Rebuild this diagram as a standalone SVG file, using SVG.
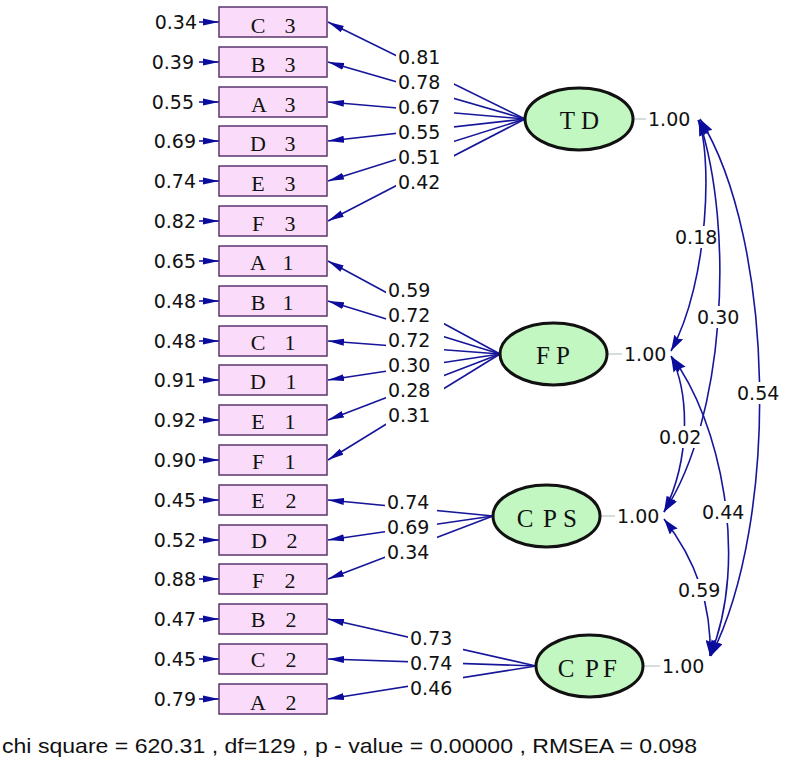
<svg xmlns="http://www.w3.org/2000/svg" width="794" height="773" viewBox="0 0 794 773">
<style>
.bx{fill:#fadcfa;stroke:#5a356e;stroke-width:1.5}
.bt{font-family:"Liberation Serif",serif;font-size:22px;fill:#111;text-anchor:middle}
.lv{fill:#c2f7c2;stroke:#111;stroke-width:3}
.lt{font-family:"Liberation Serif",serif;font-size:25px;fill:#111;text-anchor:middle}
.num{font-family:"DejaVu Sans",sans-serif;font-size:19px;fill:#111}
.er{text-anchor:end}
.ln{stroke:#16169a;stroke-width:1.6;fill:none;marker-end:url(#ah)}
.cv{stroke:#16169a;stroke-width:1.6;fill:none;marker-start:url(#ac);marker-end:url(#ac)}
.tk{stroke:#c8d2d2;stroke-width:1.5}
.bg{fill:#fff}
</style>
<defs>
<marker id="ah" viewBox="0 0 16 8" refX="16" refY="4" markerWidth="16" markerHeight="8" markerUnits="userSpaceOnUse" orient="auto-start-reverse">
<path d="M0,0.5 L16,4 L0,7.5 z" fill="#0c0c9c"/>
</marker>
<marker id="ac" viewBox="0 0 16 10" refX="16" refY="5" markerWidth="16" markerHeight="10" markerUnits="userSpaceOnUse" orient="auto-start-reverse">
<path d="M0,0 L16,5 L0,10 L2,5 z" fill="#0c0c9c"/>
</marker>
</defs>
<rect width="794" height="773" fill="#fff"/>
<g id="connectors">
<line class="ln" x1="199" y1="22" x2="219" y2="22"/>
<line class="ln" x1="199" y1="62" x2="219" y2="62"/>
<line class="ln" x1="199" y1="102" x2="219" y2="102"/>
<line class="ln" x1="199" y1="141" x2="219" y2="141"/>
<line class="ln" x1="199" y1="181" x2="219" y2="181"/>
<line class="ln" x1="199" y1="221" x2="219" y2="221"/>
<line class="ln" x1="199" y1="261" x2="219" y2="261"/>
<line class="ln" x1="199" y1="301" x2="219" y2="301"/>
<line class="ln" x1="199" y1="341" x2="219" y2="341"/>
<line class="ln" x1="199" y1="380" x2="219" y2="380"/>
<line class="ln" x1="199" y1="420" x2="219" y2="420"/>
<line class="ln" x1="199" y1="460" x2="219" y2="460"/>
<line class="ln" x1="199" y1="500" x2="219" y2="500"/>
<line class="ln" x1="199" y1="540" x2="219" y2="540"/>
<line class="ln" x1="199" y1="579" x2="219" y2="579"/>
<line class="ln" x1="199" y1="619" x2="219" y2="619"/>
<line class="ln" x1="199" y1="659" x2="219" y2="659"/>
<line class="ln" x1="199" y1="699" x2="219" y2="699"/>
<line class="ln" x1="525" y1="119" x2="328" y2="22"/>
<line class="ln" x1="525" y1="119" x2="328" y2="62"/>
<line class="ln" x1="525" y1="119" x2="328" y2="102"/>
<line class="ln" x1="525" y1="119" x2="328" y2="141"/>
<line class="ln" x1="525" y1="119" x2="328" y2="181"/>
<line class="ln" x1="525" y1="119" x2="328" y2="221"/>
<line class="ln" x1="500" y1="354" x2="328" y2="261"/>
<line class="ln" x1="500" y1="354" x2="328" y2="301"/>
<line class="ln" x1="500" y1="354" x2="328" y2="341"/>
<line class="ln" x1="500" y1="354" x2="328" y2="380"/>
<line class="ln" x1="500" y1="354" x2="328" y2="420"/>
<line class="ln" x1="500" y1="354" x2="328" y2="460"/>
<line class="ln" x1="493" y1="516" x2="328" y2="500"/>
<line class="ln" x1="493" y1="516" x2="328" y2="540"/>
<line class="ln" x1="493" y1="516" x2="328" y2="579"/>
<line class="ln" x1="536" y1="666" x2="328" y2="619"/>
<line class="ln" x1="536" y1="666" x2="328" y2="659"/>
<line class="ln" x1="536" y1="666" x2="328" y2="699"/>
<line class="tk" x1="633" y1="119" x2="646" y2="119"/>
<line class="tk" x1="607" y1="354" x2="622" y2="354"/>
<line class="tk" x1="600" y1="516" x2="615" y2="516"/>
<line class="tk" x1="643" y1="666" x2="660" y2="666"/>
<path class="cv" d="M698,120 C712,150 710,280 671,351"/>
<path class="cv" d="M699,120 C735,230 725,420 664,512"/>
<path class="cv" d="M700,119 C775,240 780,520 711,656"/>
<path class="cv" d="M671,356 C690,395 690,460 664,512"/>
<path class="cv" d="M672,357 C720,420 750,560 710,656"/>
<path class="cv" d="M664,519 C692,555 712,600 710,656"/>
<g class="num">
<rect class="bg" x="396" y="45" width="58" height="25"/><text x="398" y="64">0.81</text>
<rect class="bg" x="396" y="70" width="58" height="25"/><text x="398" y="89">0.78</text>
<rect class="bg" x="396" y="95" width="58" height="25"/><text x="398" y="114">0.67</text>
<rect class="bg" x="396" y="120" width="58" height="25"/><text x="398" y="139">0.55</text>
<rect class="bg" x="396" y="145" width="58" height="25"/><text x="398" y="164">0.51</text>
<rect class="bg" x="396" y="170" width="58" height="23"/><text x="398" y="189">0.42</text>
<rect class="bg" x="386" y="278" width="58" height="25"/><text x="388" y="297">0.59</text>
<rect class="bg" x="386" y="303" width="58" height="25"/><text x="388" y="322">0.72</text>
<rect class="bg" x="386" y="328" width="58" height="25"/><text x="388" y="347">0.72</text>
<rect class="bg" x="386" y="353" width="58" height="25"/><text x="388" y="372">0.30</text>
<rect class="bg" x="386" y="378" width="58" height="25"/><text x="388" y="397">0.28</text>
<rect class="bg" x="386" y="403" width="58" height="24"/><text x="388" y="422">0.31</text>
<rect class="bg" x="385" y="490" width="52" height="25"/><text x="387" y="509">0.74</text>
<rect class="bg" x="385" y="515" width="52" height="25"/><text x="387" y="534">0.69</text>
<rect class="bg" x="385" y="540" width="52" height="24"/><text x="387" y="559">0.34</text>
<rect class="bg" x="408" y="626" width="55" height="25"/><text x="410" y="645">0.73</text>
<rect class="bg" x="408" y="651" width="55" height="25"/><text x="410" y="670">0.74</text>
<rect class="bg" x="408" y="676" width="55" height="24"/><text x="410" y="695">0.46</text>
<rect class="bg" x="673" y="226" width="44" height="22"/><text x="675" y="244">0.18</text>
<rect class="bg" x="695" y="306" width="46" height="22"/><text x="697" y="324">0.30</text>
<rect class="bg" x="735" y="382" width="46" height="22"/><text x="737" y="400">0.54</text>
<rect class="bg" x="657" y="426" width="48" height="22"/><text x="659" y="444">0.02</text>
<rect class="bg" x="700" y="501" width="48" height="22"/><text x="702" y="519">0.44</text>
<rect class="bg" x="676" y="579" width="48" height="22"/><text x="678" y="597">0.59</text>
<text x="648" y="126">1.00</text>
<text x="624" y="361">1.00</text>
<text x="617" y="523">1.00</text>
<text x="662" y="673">1.00</text>
</g>
</g>
<g id="errors" class="num er">
<text x="197" y="29">0.34</text>
<text x="194" y="69">0.39</text>
<text x="194" y="109">0.55</text>
<text x="196" y="148">0.69</text>
<text x="196" y="188">0.74</text>
<text x="196" y="228">0.82</text>
<text x="196" y="268">0.65</text>
<text x="196" y="308">0.48</text>
<text x="196" y="348">0.48</text>
<text x="196" y="387">0.91</text>
<text x="196" y="427">0.92</text>
<text x="196" y="467">0.90</text>
<text x="196" y="507">0.45</text>
<text x="196" y="547">0.52</text>
<text x="196" y="586">0.88</text>
<text x="196" y="626">0.47</text>
<text x="196" y="666">0.45</text>
<text x="196" y="706">0.79</text>
</g>
<g id="C3"><rect class="bx" x="219" y="7" width="108" height="30"/><text class="bt" x="258 290" y="33">C3</text></g>
<g id="B3"><rect class="bx" x="219" y="47" width="108" height="30"/><text class="bt" x="258 290" y="72">B3</text></g>
<g id="A3"><rect class="bx" x="219" y="87" width="108" height="30"/><text class="bt" x="259 290" y="112">A3</text></g>
<g id="D3"><rect class="bx" x="219" y="126" width="108" height="30"/><text class="bt" x="258 290" y="151">D3</text></g>
<g id="E3"><rect class="bx" x="219" y="166" width="108" height="30"/><text class="bt" x="258 290" y="191">E3</text></g>
<g id="F3"><rect class="bx" x="219" y="206" width="108" height="30"/><text class="bt" x="258 290" y="231">F3</text></g>
<g id="A1"><rect class="bx" x="219" y="246" width="108" height="30"/><text class="bt" x="258 288" y="270">A1</text></g>
<g id="B1"><rect class="bx" x="219" y="286" width="108" height="30"/><text class="bt" x="258 288" y="310">B1</text></g>
<g id="C1"><rect class="bx" x="219" y="326" width="108" height="30"/><text class="bt" x="258 290" y="350">C1</text></g>
<g id="D1"><rect class="bx" x="219" y="365" width="108" height="30"/><text class="bt" x="258 291" y="389">D1</text></g>
<g id="E1"><rect class="bx" x="219" y="405" width="108" height="30"/><text class="bt" x="258 290" y="429">E1</text></g>
<g id="F1"><rect class="bx" x="219" y="445" width="108" height="30"/><text class="bt" x="258 290" y="469">F1</text></g>
<g id="E2"><rect class="bx" x="219" y="485" width="108" height="30"/><text class="bt" x="258 291" y="508">E2</text></g>
<g id="D2"><rect class="bx" x="219" y="525" width="108" height="30"/><text class="bt" x="259 292" y="548">D2</text></g>
<g id="F2"><rect class="bx" x="219" y="564" width="108" height="30"/><text class="bt" x="258 290" y="588">F2</text></g>
<g id="B2"><rect class="bx" x="219" y="604" width="108" height="30"/><text class="bt" x="258 291" y="627">B2</text></g>
<g id="C2"><rect class="bx" x="219" y="644" width="108" height="30"/><text class="bt" x="258 291" y="667">C2</text></g>
<g id="A2"><rect class="bx" x="219" y="684" width="108" height="30"/><text class="bt" x="258 291" y="710">A2</text></g>
<g id="TD"><ellipse class="lv" cx="579" cy="119" rx="54" ry="31"/><text class="lt" x="567.5 590" y="129">TD</text></g>
<g id="FP"><ellipse class="lv" cx="553.5" cy="354" rx="53.5" ry="31"/><text class="lt" x="543 563" y="364">FP</text></g>
<g id="CPS"><ellipse class="lv" cx="546.5" cy="516" rx="53.5" ry="31"/><text class="lt" x="525 550 570" y="527">CPS</text></g>
<g id="CPF"><ellipse class="lv" cx="589.5" cy="666" rx="53.5" ry="31"/><text class="lt" x="566 592 610" y="677">CPF</text></g>
<text x="2" y="753" font-family="Liberation Sans, sans-serif" font-size="21" fill="#111" textLength="695" lengthAdjust="spacingAndGlyphs">chi square = 620.31 , df=129 , p - value = 0.00000 , RMSEA = 0.098</text>
</svg>
